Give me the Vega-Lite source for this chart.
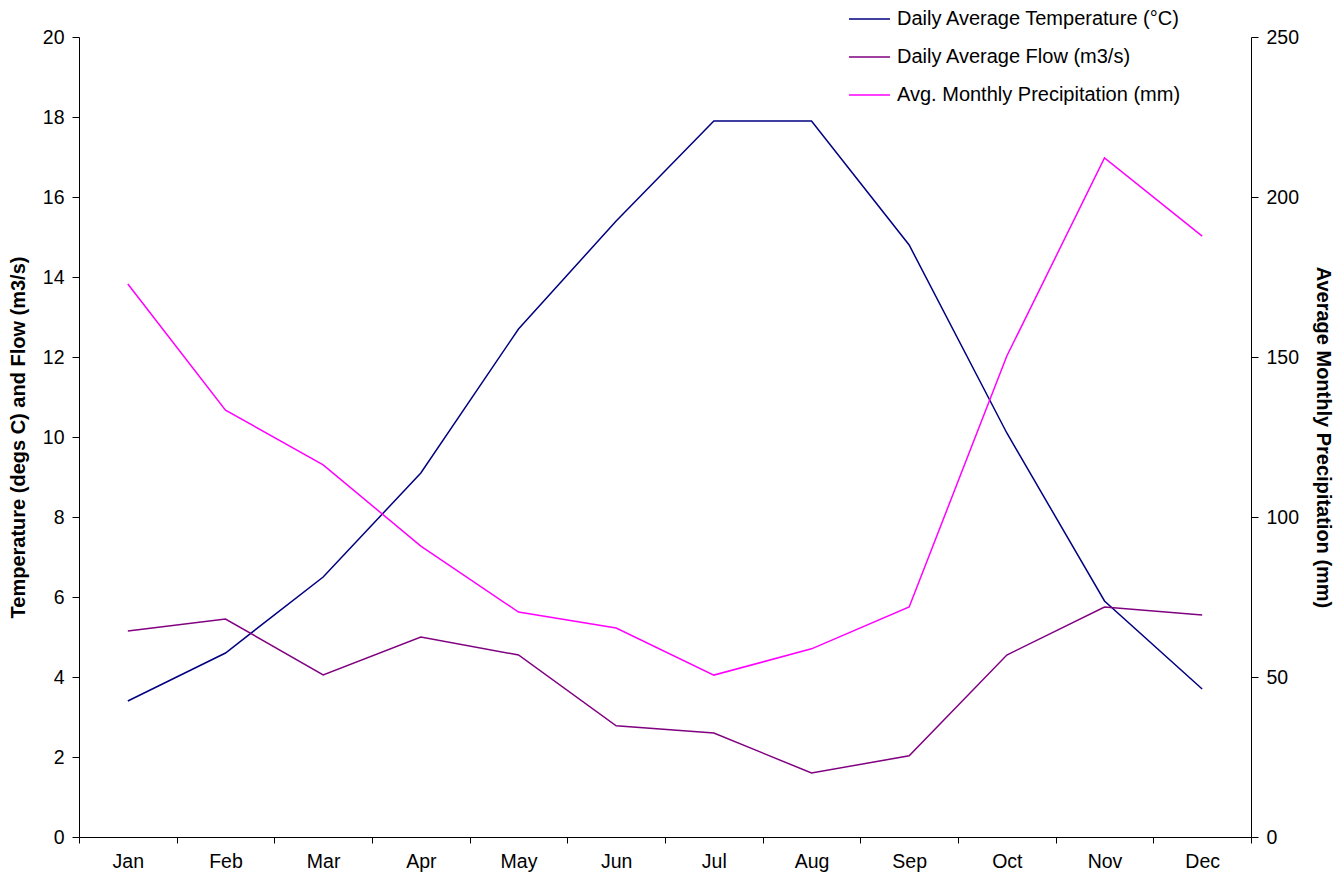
{
  "$schema": "https://vega.github.io/schema/vega-lite/v6.json",
  "width": 1172,
  "height": 800,
  "autosize": {"type": "none"},
  "padding": {"left": 79, "top": 37, "right": 84, "bottom": 40},
  "background": "white",
  "config": {
    "font": "Liberation Sans",
    "view": {"stroke": null},
    "axis": {
      "grid": false,
      "domainColor": "black",
      "tickColor": "black",
      "labelColor": "black",
      "titleColor": "black",
      "labelFontSize": 19.5,
      "titleFontSize": 20,
      "labelFont": "Liberation Sans",
      "titleFont": "Liberation Sans",
      "titleFontWeight": "bold",
      "tickSize": 7,
      "labelPadding": 8
    },
    "legend": {"padding": 0}
  },
  "data": {
    "values": [
      {"month": "Jan", "series": "Daily Average Temperature (°C)", "axis": "left", "value": 3.4},
      {"month": "Feb", "series": "Daily Average Temperature (°C)", "axis": "left", "value": 4.6},
      {"month": "Mar", "series": "Daily Average Temperature (°C)", "axis": "left", "value": 6.5},
      {"month": "Apr", "series": "Daily Average Temperature (°C)", "axis": "left", "value": 9.1},
      {"month": "May", "series": "Daily Average Temperature (°C)", "axis": "left", "value": 12.7},
      {"month": "Jun", "series": "Daily Average Temperature (°C)", "axis": "left", "value": 15.4},
      {"month": "Jul", "series": "Daily Average Temperature (°C)", "axis": "left", "value": 17.9},
      {"month": "Aug", "series": "Daily Average Temperature (°C)", "axis": "left", "value": 17.9},
      {"month": "Sep", "series": "Daily Average Temperature (°C)", "axis": "left", "value": 14.8},
      {"month": "Oct", "series": "Daily Average Temperature (°C)", "axis": "left", "value": 10.1},
      {"month": "Nov", "series": "Daily Average Temperature (°C)", "axis": "left", "value": 5.9},
      {"month": "Dec", "series": "Daily Average Temperature (°C)", "axis": "left", "value": 3.7},
      {"month": "Jan", "series": "Daily Average Flow (m3/s)", "axis": "left", "value": 5.15},
      {"month": "Feb", "series": "Daily Average Flow (m3/s)", "axis": "left", "value": 5.45},
      {"month": "Mar", "series": "Daily Average Flow (m3/s)", "axis": "left", "value": 4.05},
      {"month": "Apr", "series": "Daily Average Flow (m3/s)", "axis": "left", "value": 5.0},
      {"month": "May", "series": "Daily Average Flow (m3/s)", "axis": "left", "value": 4.55},
      {"month": "Jun", "series": "Daily Average Flow (m3/s)", "axis": "left", "value": 2.78},
      {"month": "Jul", "series": "Daily Average Flow (m3/s)", "axis": "left", "value": 2.6},
      {"month": "Aug", "series": "Daily Average Flow (m3/s)", "axis": "left", "value": 1.6},
      {"month": "Sep", "series": "Daily Average Flow (m3/s)", "axis": "left", "value": 2.03},
      {"month": "Oct", "series": "Daily Average Flow (m3/s)", "axis": "left", "value": 4.55},
      {"month": "Nov", "series": "Daily Average Flow (m3/s)", "axis": "left", "value": 5.75},
      {"month": "Dec", "series": "Daily Average Flow (m3/s)", "axis": "left", "value": 5.55},
      {"month": "Jan", "series": "Avg. Monthly Precipitation (mm)", "axis": "right", "value": 172.8},
      {"month": "Feb", "series": "Avg. Monthly Precipitation (mm)", "axis": "right", "value": 133.4},
      {"month": "Mar", "series": "Avg. Monthly Precipitation (mm)", "axis": "right", "value": 116.3},
      {"month": "Apr", "series": "Avg. Monthly Precipitation (mm)", "axis": "right", "value": 90.9},
      {"month": "May", "series": "Avg. Monthly Precipitation (mm)", "axis": "right", "value": 70.3},
      {"month": "Jun", "series": "Avg. Monthly Precipitation (mm)", "axis": "right", "value": 65.3},
      {"month": "Jul", "series": "Avg. Monthly Precipitation (mm)", "axis": "right", "value": 50.6},
      {"month": "Aug", "series": "Avg. Monthly Precipitation (mm)", "axis": "right", "value": 58.8},
      {"month": "Sep", "series": "Avg. Monthly Precipitation (mm)", "axis": "right", "value": 71.9},
      {"month": "Oct", "series": "Avg. Monthly Precipitation (mm)", "axis": "right", "value": 150.3},
      {"month": "Nov", "series": "Avg. Monthly Precipitation (mm)", "axis": "right", "value": 212.2},
      {"month": "Dec", "series": "Avg. Monthly Precipitation (mm)", "axis": "right", "value": 187.8}
    ]
  },
  "encoding": {
    "x": {
      "field": "month",
      "type": "ordinal",
      "sort": ["Jan", "Feb", "Mar", "Apr", "May", "Jun", "Jul", "Aug", "Sep", "Oct", "Nov", "Dec"],
      "scale": {"type": "band", "paddingInner": 0, "paddingOuter": 0},
      "bandPosition": 0.5,
      "axis": {"title": null, "labelAngle": 0, "tickBand": "extent", "tickSize": 6, "labelPadding": 9}
    },
    "color": {
      "field": "series",
      "type": "nominal",
      "scale": {
        "domain": ["Daily Average Temperature (°C)", "Daily Average Flow (m3/s)", "Avg. Monthly Precipitation (mm)"],
        "range": ["#000080", "#800080", "#FF00FF"]
      },
      "legend": {
        "title": null,
        "orient": "none",
        "legendX": 769,
        "legendY": -37,
        "symbolType": "stroke",
        "symbolSize": 1681,
        "symbolStrokeWidth": 1.5,
        "clipHeight": 38,
        "rowPadding": 0,
        "labelFontSize": 20,
        "labelFont": "Liberation Sans",
        "labelColor": "black",
        "labelOffset": 6,
        "labelLimit": 400
      }
    }
  },
  "layer": [
    {
      "transform": [{"filter": "datum.axis == 'left'"}],
      "mark": {"type": "line", "strokeWidth": 1.5},
      "encoding": {
        "y": {
          "field": "value",
          "type": "quantitative",
          "scale": {"domain": [0, 20], "nice": false},
          "axis": {"title": "Temperature (degs C) and Flow (m3/s)", "values": [0, 2, 4, 6, 8, 10, 12, 14, 16, 18, 20], "titlePadding": 14}
        }
      }
    },
    {
      "transform": [{"filter": "datum.axis == 'right'"}],
      "mark": {"type": "line", "strokeWidth": 1.5},
      "encoding": {
        "y": {
          "field": "value",
          "type": "quantitative",
          "scale": {"domain": [0, 250], "nice": false},
          "axis": {"orient": "right", "title": "Average Monthly Precipitation (mm)", "values": [0, 50, 100, 150, 200, 250], "titlePadding": 14}
        }
      }
    }
  ],
  "resolve": {"scale": {"y": "independent"}}
}
